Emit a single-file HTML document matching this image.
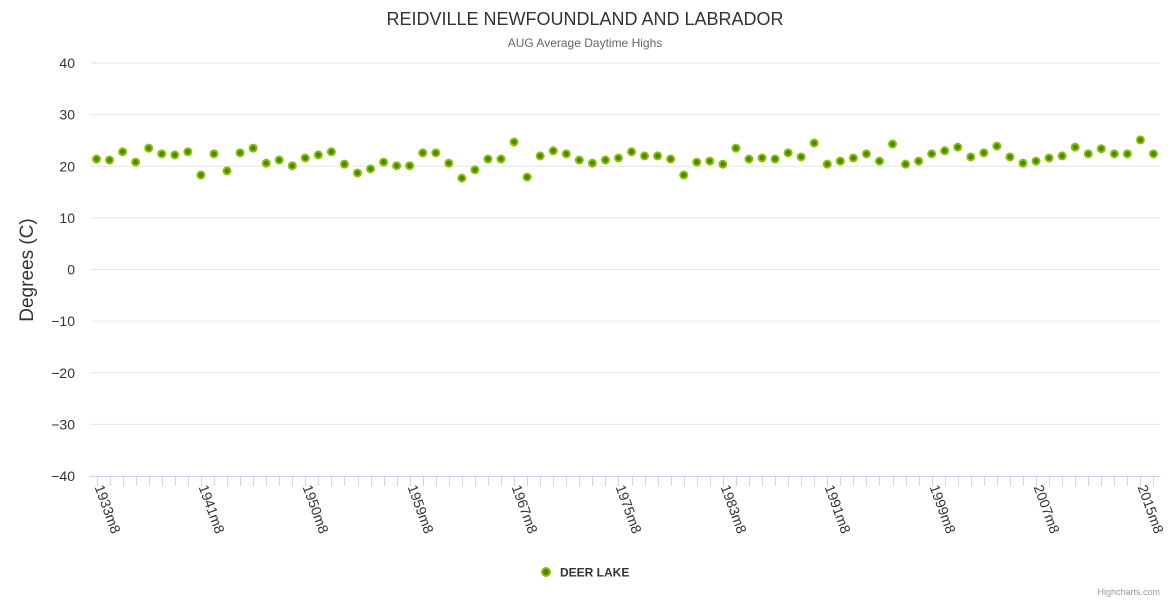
<!DOCTYPE html>
<html><head><meta charset="utf-8"><style>
body{margin:0;background:#fff;font-family:"Liberation Sans",Arial,sans-serif}
svg text{font-family:"Liberation Sans",Arial,sans-serif}
</style></head><body>
<svg id="chart" width="1170" height="600" xmlns="http://www.w3.org/2000/svg">
<rect width="1170" height="600" fill="#fff"/>
<text x="585" y="25" text-anchor="middle" font-size="18" fill="#333">REIDVILLE NEWFOUNDLAND AND LABRADOR</text>
<text x="585" y="47" text-anchor="middle" font-size="12" fill="#666">AUG Average Daytime Highs</text>
<text transform="translate(33,270) rotate(-90)" text-anchor="middle" font-size="19" fill="#333">Degrees (C)</text>
<g id="grid"></g><g id="xaxis"></g><g id="points"></g>
<g>
<circle cx="546" cy="572" r="4" fill="#3f8a00" stroke="#8cc000" stroke-width="2"/>
<text x="560" y="576.5" font-size="12" font-weight="bold" fill="#333">DEER LAKE</text>
</g>
<text x="1160" y="595" text-anchor="end" font-size="9" fill="#999">Highcharts.com</text>
</svg>
<script>
const years = [];
const skipYears = [1946, 1954];
for (let y = 1933; y <= 2016; y++) if (!skipYears.includes(y)) years.push(y);
const categories = years.map(y => y + 'm8');
const values = [21.4,21.2,22.8,20.8,23.5,22.4,22.2,22.8,18.3,22.4,19.1,22.6,23.5,20.6,21.2,20.1,21.6,22.2,22.8,20.4,18.7,19.5,20.8,20.1,20.1,22.6,22.6,20.6,17.7,19.3,21.4,21.4,24.7,17.9,22.0,23.0,22.4,21.2,20.6,21.2,21.6,22.8,22.0,22.0,21.4,18.3,20.8,21.0,20.4,23.5,21.4,21.6,21.4,22.6,21.8,24.5,20.4,21.0,21.6,22.4,21.0,24.3,20.4,21.0,22.4,23.0,23.7,21.8,22.6,23.9,21.8,20.6,21.0,21.6,22.0,23.7,22.4,23.4,22.4,22.4,25.1,22.4];
const yTicks = [40,30,20,10,0,-10,-20,-30,-40];
const labelEvery = 8;

const NS = 'http://www.w3.org/2000/svg';
const L = 90, R = 1160, T = 63, B = 476, yMin = -40, yMax = 40;
const n = categories.length, cw = (R - L) / n;
const xPos = i => L + (i + 0.5) * cw;
const yPos = v => B - (v - yMin) / (yMax - yMin) * (B - T);
function mk(tag, attrs, parent){const e=document.createElementNS(NS,tag);for(const k in attrs)e.setAttribute(k,attrs[k]);parent.appendChild(e);return e;}
const grid = document.getElementById('grid');
yTicks.forEach(v=>{
  const y = yPos(v);
  if (v !== yMin) {
    const ln = mk('line',{x1:L,x2:R,y1:y,y2:y,stroke:'#e6e6e6','stroke-width':1},grid);
    
    
  }
  const t = mk('text',{x:75,y:y+5,'text-anchor':'end','font-size':14,fill:'#333'},grid);
  t.textContent = (v<0?'\u2212'+(-v):v);
  
  
});
const xa = document.getElementById('xaxis');
const axl = mk('line',{x1:L,x2:R,y1:B+0.5,y2:B+0.5,stroke:'#ccd6eb','stroke-width':1},xa);


categories.forEach((c,i)=>{
  const x = Math.round(xPos(i))+0.5;
  const tk = mk('line',{x1:x,x2:x,y1:B,y2:B+10,stroke:'#ccd6eb','stroke-width':1},xa);
  
  
  if (i % labelEvery === 0) {
    const t = mk('text',{transform:`translate(${x-3},${B+11}) rotate(70)`,'font-size':14,fill:'#333'},xa);
    t.textContent = c;
    
    
  }
});
const pg = document.getElementById('points');
values.forEach((v,i)=>{
  const c = mk('circle',{cx:xPos(i),cy:yPos(v),r:3.5,fill:'#3f8a00',stroke:'#8cc000','stroke-width':2},pg);
  
  
});
</script>
</body></html>
